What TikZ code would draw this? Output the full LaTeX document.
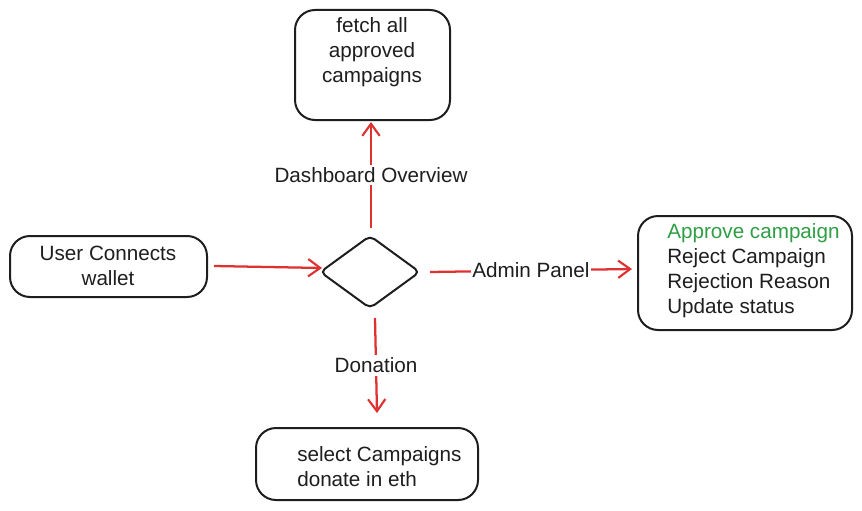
\documentclass[tikz,border=0pt]{standalone}
\usepackage{fontspec}
\setmainfont{Liberation Sans}
\usetikzlibrary{arrows.meta,shapes.geometric}
\definecolor{exred}{HTML}{E03131}
\definecolor{exgreen}{HTML}{2F9E44}
\definecolor{exblack}{HTML}{1E1E1E}
\tikzset{
  px/.style={x=0.75pt,y=-0.75pt},
  box/.style={draw=exblack,line width=1.5pt,rounded corners=15pt,fill=white},
  txt/.style={font=\fontsize{15.5}{18.7}\selectfont,text=exblack,inner sep=0pt},
  conn/.style={draw=exred,line width=1.7pt,-{Straight Barb[length=9pt,width=13pt,line width=1.6pt]}},
  lbl/.style={txt,fill=white,inner sep=2pt}
}
\begin{document}
\begin{tikzpicture}[px]
\useasboundingbox (0,0) rectangle (862,510);
% boxes
\draw[box] (295,10) rectangle (450,120);
\node[txt,align=center] (fetch) at (372,52) {fetch all\\approved\\campaigns};
\coordinate (fetchS) at (371,122);

\draw[box] (10,236) rectangle (207,297);
\node[txt,align=center] (user) at (108,266) {User Connects\\wallet};
\coordinate (userE) at (214,266);

\node[draw=exblack,line width=1.5pt,diamond,aspect=1.38,minimum width=100*0.75pt,minimum height=73*0.75pt,inner sep=0pt,rounded corners=4pt] (dia) at (370,272) {};

\draw[box] (638,216) rectangle (852,330);
\node[txt,align=left,anchor=west] (admin) at (667,271) {\textcolor{exgreen}{Approve campaign}\\Reject Campaign\\Rejection Reason\\Update status};
\coordinate (adminW) at (632,269);

\draw[box] (256,428) rectangle (478,500);
\node[txt,align=left,anchor=west] (don) at (297,467) {select Campaigns\\donate in eth};
\coordinate (donN) at (377,413);

% connectors
\draw[conn] (userE) -- (322,268);
\coordinate (dT) at (371,228);
\coordinate (dR) at (430,272);
\coordinate (dB) at (375,318);
\draw[conn] (dT) -- node[lbl] {Dashboard Overview} (fetchS);
\draw[conn] (dR) -- node[lbl,inner sep=1pt] {Admin Panel} (adminW);
\draw[conn] (dB) -- node[lbl] {Donation} (donN);
\end{tikzpicture}
\end{document}
